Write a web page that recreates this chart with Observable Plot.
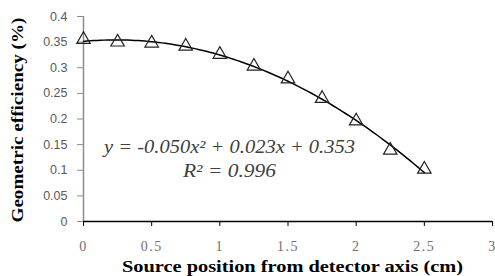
<!DOCTYPE html>
<html>
<head>
<meta charset="utf-8">
<script src="https://cdn.jsdelivr.net/npm/d3@7"></script>
<script src="https://cdn.jsdelivr.net/npm/@observablehq/plot@0.6"></script>
<style>
  html, body { margin: 0; padding: 0; background: #ffffff; }
  #chart { width: 495px; height: 276px; }
</style>
</head>
<body>
<div id="chart"></div>
<script>
// Source position from detector axis (cm)
const positions = [0, 0.25, 0.5, 0.75, 1, 1.25, 1.5, 1.75, 2, 2.25, 2.5];
// Geometric efficiency (%)
const efficiency = [0.355, 0.350, 0.348, 0.342, 0.326, 0.303, 0.278, 0.240, 0.196, 0.139, 0.102];
const xTicks = [0, 0.5, 1, 1.5, 2, 2.5, 3];
const yTicks = [0, 0.05, 0.1, 0.15, 0.2, 0.25, 0.3, 0.35, 0.4];
const xTitle = "Source position from detector axis (cm)";
const yTitle = "Geometric efficiency (%)";
const equationText = "y = -0.050x² + 0.023x + 0.353";
const r2Text = "R² = 0.996";

const data = positions.map((x, i) => ({x, y: efficiency[i]}));

// Quadratic least-squares trendline fitted to the data (as the original trendline)
function quadFit(xs, ys) {
  const n = xs.length;
  const s = [0, 0, 0, 0, 0], t = [0, 0, 0];
  for (let i = 0; i < n; i++) {
    for (let k = 0; k <= 4; k++) s[k] += Math.pow(xs[i], k);
    for (let k = 0; k <= 2; k++) t[k] += ys[i] * Math.pow(xs[i], k);
  }
  const A = [[s[0], s[1], s[2]], [s[1], s[2], s[3]], [s[2], s[3], s[4]]];
  const b = t.slice();
  for (let i = 0; i < 3; i++) {
    for (let j = i + 1; j < 3; j++) {
      const f = A[j][i] / A[i][i];
      for (let k = i; k < 3; k++) A[j][k] -= f * A[i][k];
      b[j] -= f * b[i];
    }
  }
  const c = [0, 0, 0];
  for (let i = 2; i >= 0; i--) {
    let v = b[i];
    for (let k = i + 1; k < 3; k++) v -= A[i][k] * c[k];
    c[i] = v / A[i][i];
  }
  return c;
}
const coef = quadFit(positions, efficiency);
const xMin = positions[0], xMax = positions[positions.length - 1];
const trend = d3.range(0, 101).map(i => {
  const x = xMin + (xMax - xMin) * i / 100;
  return {x, y: coef[0] + coef[1] * x + coef[2] * x * x};
});

const chart = Plot.plot({
  width: 495,
  height: 276,
  marginLeft: 83,
  marginRight: 3,
  marginTop: 16,
  marginBottom: 55,
  style: {background: "#ffffff"},
  x: {domain: [0, 3]},
  y: {domain: [0, 0.4]},
  marks: [
    Plot.ruleX([0], {stroke: "#8c8c8c", strokeWidth: 1.5}),
    Plot.axisY({ticks: yTicks, tickSize: 6, tickPadding: 10, stroke: "#8c8c8c",
      tickFormat: d => String(d), label: null,
      fontFamily: "Liberation Sans", fontSize: 12.5, fill: "#595959"}),
    Plot.axisX({ticks: xTicks, tickSize: 5, tickPadding: 15, stroke: "#000",
      tickFormat: d => String(d), label: null,
      fontFamily: "Liberation Serif", fontSize: 14, fill: "#707070"}),
    Plot.ruleY([0], {stroke: "#000", strokeWidth: 1.5}),
    Plot.line(trend, {x: "x", y: "y", stroke: "#000", strokeWidth: 1.5}),
    Plot.dot(data, {x: "x", y: "y", symbol: "triangle", r: 5, fill: "none", stroke: "#222", strokeWidth: 1.2}),
    Plot.text([equationText], {x: [1.071], y: [0.1444], text: d => d, textAnchor: "middle", lineAnchor: "middle",
      fontFamily: "Liberation Serif", fontStyle: "italic", fontSize: 18, fill: "#404040"}),
    Plot.text([r2Text], {x: [1.071], y: [0.0976], text: d => d, textAnchor: "middle", lineAnchor: "middle",
      fontFamily: "Liberation Serif", fontStyle: "italic", fontSize: 18, fill: "#404040"}),
    Plot.text([xTitle], {frameAnchor: "bottom", dx: 4.5, dy: 45, lineAnchor: "middle", text: d => d,
      fontFamily: "Liberation Serif", fontWeight: "bold", fontSize: 16, fill: "#000"}),
    Plot.text([yTitle], {frameAnchor: "left", dx: -66, dy: 1, rotate: -90, textAnchor: "middle", lineAnchor: "middle",
      text: d => d, fontFamily: "Liberation Serif", fontWeight: "bold", fontSize: 16, fill: "#000"})
  ]
});

// Stretch texts horizontally to the widths seen in the reference
const stretch = {};
stretch[xTitle] = 341;
stretch[yTitle] = 205;
stretch[equationText] = 251;
stretch[r2Text] = 93;
d3.select(chart).selectAll("text").each(function() {
  const t = this.textContent;
  if (stretch[t]) {
    d3.select(this).attr("textLength", stretch[t]).attr("lengthAdjust", "spacingAndGlyphs");
  }
});
d3.select(chart).selectAll("[aria-label='x-axis tick label'] text").style("letter-spacing", "1.5px");
document.getElementById("chart").appendChild(chart);
</script>
</body>
</html>
